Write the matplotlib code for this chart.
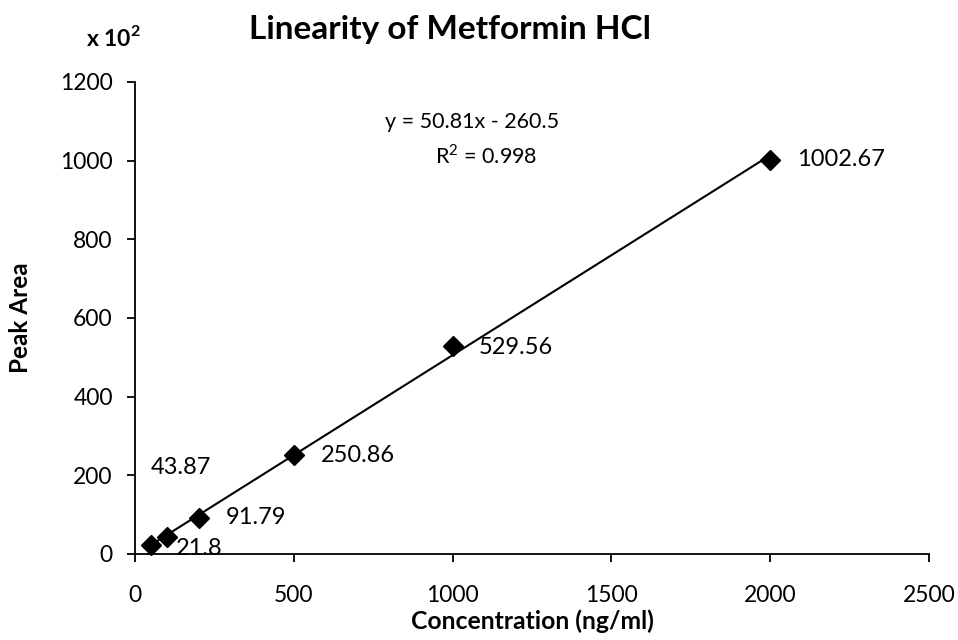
import numpy as np
import matplotlib.pyplot as plt

plt.rcParams['font.family'] = ['Lato', 'DejaVu Sans']
plt.rcParams['mathtext.fontset'] = 'custom'
plt.rcParams['mathtext.rm'] = 'Lato'
plt.rcParams['mathtext.bf'] = 'Lato:bold'

conc = [50, 100, 200, 500, 1000, 2000]
area = [21.8, 43.87, 91.79, 250.86, 529.56, 1002.67]
labels = ['21.8', '43.87', '91.79', '250.86', '529.56', '1002.67']
# label offsets in pixels (Excel had them scattered a bit)
offs = [(25, -3), (-16, 69), (27, 0), (27, 0), (26, -2), (27, 0)]

fig = plt.figure(figsize=(9.58, 6.4), dpi=100)
ax = fig.add_axes([0.1409, 0.1344, 0.8288, 0.7375])

# linear trendline
m, b = np.polyfit(conc, area, 1)
xs = np.array([min(conc), max(conc)])
ax.plot(xs, m * xs + b, color='black', lw=1.5, zorder=2)
ax.plot(conc, area, 'D', color='black', ms=10.5, zorder=3, clip_on=False)

for x, y, t, o in zip(conc, area, labels, offs):
    ax.annotate(t, (x, y), xytext=o, textcoords='offset pixels',
                ha='left', va='center', fontsize=17, zorder=1)

ax.set_xlim(0, 2500)
ax.set_ylim(0, 1200)
ax.set_xticks([0, 500, 1000, 1500, 2000, 2500])
ax.set_yticks([0, 200, 400, 600, 800, 1000, 1200])
for s in ['top', 'right']:
    ax.spines[s].set_visible(False)
for s in ['left', 'bottom']:
    ax.spines[s].set_linewidth(1.3)
ax.tick_params(direction='out', length=6, width=1.3, labelsize=16.5)
ax.tick_params(axis='x', pad=16)
ax.tick_params(axis='y', pad=10)

ax.set_xlabel('Concentration (ng/ml)', fontsize=17.8, fontweight='bold', labelpad=3)
ax.set_ylabel('Peak Area', fontsize=17.5, fontweight='bold', labelpad=20)

fig.text(450 / 958, 1 - 30 / 640, 'Linearity of Metformin HCl', ha='center', va='center',
         fontsize=24, fontweight='bold')
fig.text(113 / 958, 1 - 37 / 640, r'x 10$^{\mathbf{2}}$', ha='center', va='center',
         fontsize=16.5, fontweight='bold')
fig.text(472 / 958, 1 - 122 / 640, 'y = 50.81x - 260.5', ha='center', va='center', fontsize=15.5)
fig.text(486 / 958, 1 - 156 / 640, r'R$^{2}$ = 0.998', ha='center', va='center', fontsize=15.5)

fig.savefig('out.png', dpi=100)
